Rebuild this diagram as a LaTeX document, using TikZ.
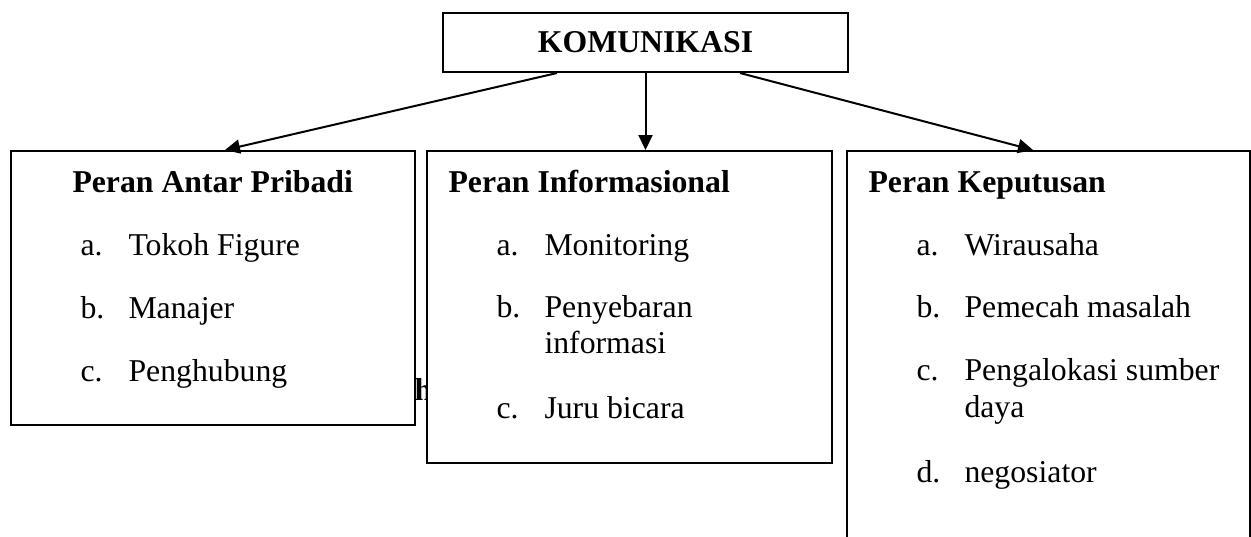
\documentclass[tikz,border=0pt]{standalone}
\usepackage{fontspec}
\setmainfont{Liberation Serif}
\usetikzlibrary{positioning,arrows.meta}

\begin{document}
\begin{tikzpicture}[
  x=0.4pt, y=-0.4pt,
  roleBox/.style={draw, line width=0.8pt, fill=white, inner sep=0pt},
  headText/.style={anchor=base west, inner sep=0pt,
                   font=\fontsize{12.7}{15}\selectfont\bfseries},
  itemText/.style={anchor=base west, inner sep=0pt,
                   font=\fontsize{12.7}{15}\selectfont},
  >={Triangle[length=6pt,width=5.6pt]}
]
  \useasboundingbox (0,0) rectangle (1251,536);

  % left-over text, mostly hidden by the boxes
  \node[headText] (stray) at (414,400) {h};

  \node[roleBox, minimum width=162pt, minimum height=23.6pt,
        font=\fontsize{12.7}{15}\selectfont\bfseries] (kom) at (645.5,42.5) {KOMUNIKASI};

  \node[roleBox, minimum width=161.6pt, minimum height=109.6pt] (antar) at (213,288) {};
  \node[roleBox, minimum width=162pt, minimum height=124.8pt] (info) at (629.5,307) {};
  \node[roleBox, minimum width=161.2pt, minimum height=163.6pt] (keputusan) at (1048.5,355.5) {};

  \node[headText] (antarHead) at (72,192) {Peran Antar Pribadi};
  \node[headText] (infoHead) at (448,192) {Peran Informasional};
  \node[headText] (kepHead) at (868,192) {Peran Keputusan};

  % list items
  \foreach \x/\y/\l/\t [count=\k] in {80/255/a./Tokoh Figure, 80/318/b./Manajer,
      80/381/c./Penghubung, 496/255/a./Monitoring, 496/317/b./Penyebaran,
      496/418/c./Juru bicara, 916/255/a./Wirausaha, 916/317/b./Pemecah masalah,
      916/380/c./Pengalokasi sumber, 916/482/d./negosiator} {
    \node[itemText] (lab\k) at (\x,\y) {\l};
    \node[itemText] (item\k) at (\x+48,\y) {\t};
  }
  \node[itemText] (infoCont) at (544,353) {informasi};
  \node[itemText] (kepCont) at (964,417) {daya};

  \draw[->, line width=0.8pt] ([xshift=-35.4pt]kom.south) -- ([xshift=4.8pt]antar.north);
  \draw[->, line width=0.8pt] (kom.south) -- (kom.south |- info.north);
  \draw[->, line width=0.8pt] ([xshift=37.8pt]kom.south) -- ([xshift=-6.2pt]keputusan.north);
\end{tikzpicture}
\end{document}
